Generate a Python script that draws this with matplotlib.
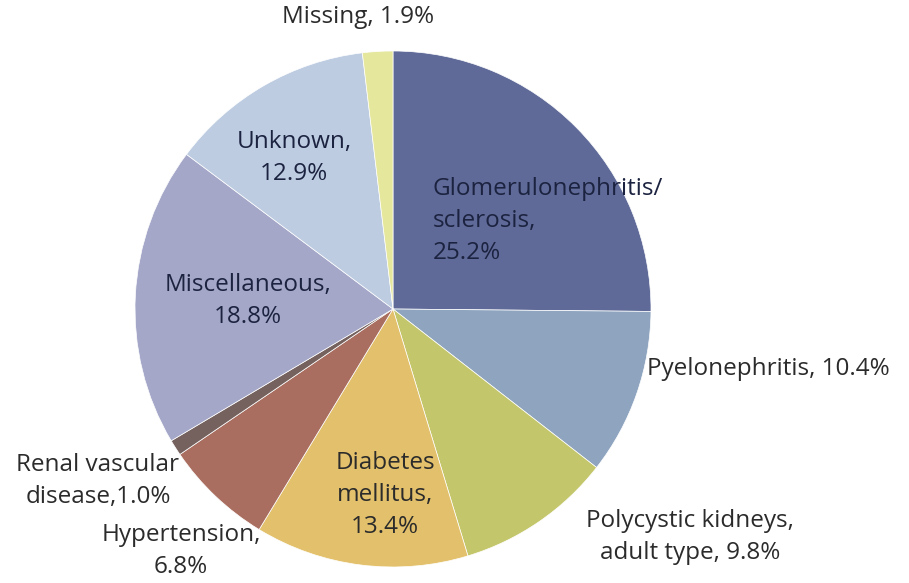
import matplotlib
matplotlib.use("Agg")
import matplotlib.pyplot as plt

# causes of renal failure, clockwise from 12 o'clock
causes = ["Glomerulonephritis/\nsclerosis", "Pyelonephritis", "Polycystic kidneys,\nadult type",
          "Diabetes\nmellitus", "Hypertension", "Renal vascular\ndisease", "Miscellaneous",
          "Unknown", "Missing"]
shares = [25.2, 10.4, 9.8, 13.4, 6.8, 1.0, 18.8, 12.9, 1.9]
colors = ["#5f6a98", "#8ea4bf", "#c4c66b", "#e3c16c", "#a96e5f",
          "#75625e", "#a4a7c8", "#bdcce1", "#e5e79c"]

W, H = 909, 583
fig = plt.figure(figsize=(W / 100, H / 100), dpi=100)
ax = fig.add_axes([0, 0, 1, 1])

cx, cy, r = 393, H - 309, 258
ax.pie(shares, colors=colors, startangle=90, counterclock=False,
       center=(cx, cy), radius=r, frame=True,
       wedgeprops=dict(linewidth=0.5, edgecolor="white"))
ax.set_xlim(0, W)
ax.set_ylim(0, H)
ax.set_aspect("equal")
ax.axis("off")

fs = 17.5
font = "Open Sans"


def lab(i, x, y, ha="center", sep=", ", color="#2b2b2b"):
    txt = f"{causes[i]}{sep}{shares[i]:.1f}%"
    ax.text(x, H - y, txt, ha=ha, va="center", fontsize=fs, family=font,
            color=color, linespacing=1.45)


lab(0, 433, 221, ha="left", sep=",\n", color="#1c2340")
lab(1, 647, 369, ha="left")
lab(2, 690, 537, sep=", ")
lab(3, 385, 495, sep=",\n")
lab(4, 181, 551, sep=",\n")
lab(5, 98, 481, sep=",")
lab(6, 248, 301, sep=",\n", color="#1c2340")
lab(7, 294, 158, sep=",\n", color="#1c2340")
lab(8, 358, 17)

fig.savefig("out.png", dpi=100)
